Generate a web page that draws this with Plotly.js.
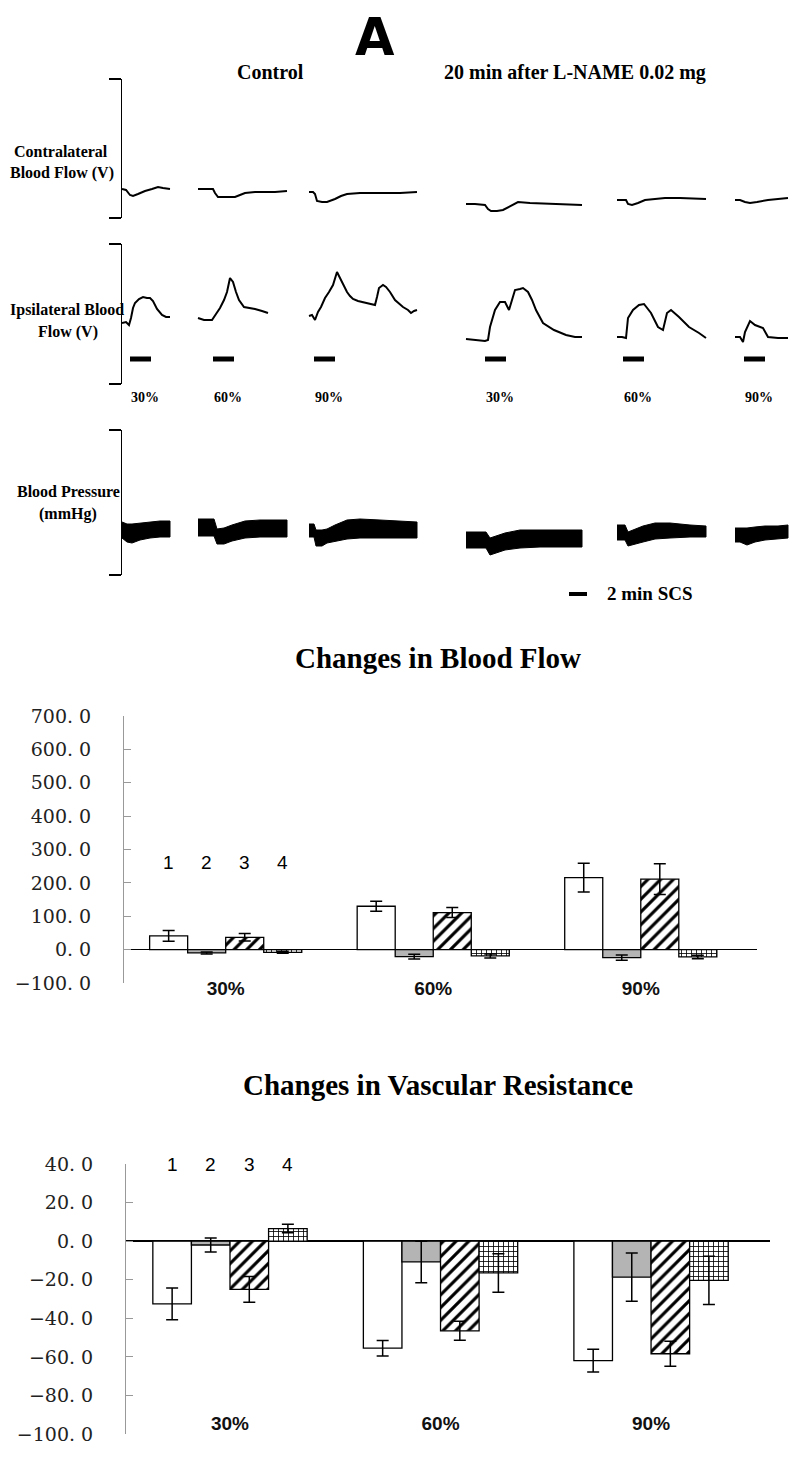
<!DOCTYPE html>
<html>
<head>
<meta charset="utf-8">
<script src="https://cdn.plot.ly/plotly-3.0.1.min.js"></script>
<style>
  html, body { margin: 0; padding: 0; background: #fff; }
  #graph { width: 800px; height: 1460px; }
</style>
</head>
<body>
<div id="graph"></div>
<script>
// ---- recordings (x = time position, y = signal height above bracket bottom) ----
const contraX = [
  [122, 126, 130, 133, 138, 145, 152, 158, 163, 167, 170],
  [198, 205, 213, 215, 218, 225, 235, 240, 245, 255, 265, 275, 287],
  [309, 313, 315, 317, 322, 327, 335, 341, 347, 360, 380, 400, 417],
  [466, 475, 485, 488, 491, 497, 503, 510, 518, 530, 550, 570, 582],
  [617, 622, 626, 628, 632, 638, 645, 655, 665, 680, 695, 706],
  [735, 740, 745, 750, 757, 768, 778, 788]
];
const contraY = [
  [29, 28, 23, 22, 24, 27, 29, 31, 30, 29, 29],
  [29, 29, 29, 25, 21, 21, 21, 23, 25, 26, 26, 26, 27],
  [26, 26, 24, 17, 16, 16, 19, 22, 24, 25, 25, 25, 26],
  [14, 14, 13, 9, 7, 7, 8, 12, 16, 15, 14, 13, 13],
  [18, 18, 18, 14, 13, 15, 18, 19, 20, 20, 19, 19],
  [18, 18, 16, 15, 16, 18, 19, 20]
];

const ipsiX = [
  [122, 126, 129, 131, 133, 135, 139, 143, 147, 150, 153, 157, 162, 166, 170],
  [198, 204, 208, 212, 216, 220, 224, 227, 230, 233, 236, 239, 244, 250, 255, 262, 268],
  [309, 312, 315, 318, 321, 325, 329, 333, 337, 341, 344, 347, 350, 353, 358, 362, 368, 375, 377, 379, 383, 386, 390, 395, 403, 408, 411, 414, 417],
  [466, 475, 485, 488, 490, 495, 500, 505, 509, 512, 515, 520, 523, 528, 532, 536, 543, 554, 566, 575, 582],
  [617, 622, 626, 628, 633, 639, 644, 651, 658, 663, 667, 671, 679, 689, 699, 706],
  [735, 740, 743, 745, 750, 755, 763, 768, 778, 788]
];
const ipsiY = [
  [61, 62, 59, 66, 76, 81, 85, 87, 86, 86, 83, 75, 69, 67, 67],
  [66, 64, 64, 64, 70, 76, 84, 92, 106, 102, 92, 84, 77, 76, 75, 73, 71],
  [68, 69, 64, 72, 77, 86, 92, 99, 112, 104, 98, 92, 88, 85, 83, 82, 80, 79, 87, 96, 99, 97, 92, 84, 77, 74, 71, 73, 74],
  [45, 44, 43, 44, 57, 74, 82, 82, 74, 84, 94, 95, 96, 92, 84, 74, 61, 54, 49, 47, 47],
  [47, 47, 46, 66, 74, 79, 80, 71, 57, 54, 71, 74, 67, 57, 51, 46],
  [47, 47, 42, 52, 63, 59, 56, 47, 46, 46]
];

// blood pressure band: systolic (top) and diastolic (bottom) envelopes
const bpX = [
  [122, 127, 132, 140, 150, 160, 170],
  [198, 205, 214, 217, 224, 232, 245, 260, 275, 287],
  [309, 314, 316, 322, 327, 335, 347, 360, 380, 400, 417],
  [466, 475, 486, 490, 496, 505, 520, 540, 560, 582],
  [617, 622, 625, 628, 635, 643, 655, 670, 690, 706],
  [735, 740, 747, 755, 765, 778, 788]
];
const bpTop = [
  [53, 51, 51, 52, 53, 54, 54],
  [56, 56, 56, 46, 47, 50, 54, 55, 55, 55],
  [51, 51, 45, 45, 46, 50, 55, 56, 55, 54, 53],
  [43, 43, 43, 37, 39, 42, 45, 45, 45, 45],
  [50, 50, 50, 43, 46, 49, 52, 52, 50, 49],
  [47, 47, 47, 48, 49, 49, 50]
];
const bpBottom = [
  [37, 33, 32, 35, 37, 38, 38],
  [39, 39, 39, 31, 31, 34, 37, 38, 38, 38],
  [38, 38, 29, 29, 32, 34, 36, 37, 37, 37, 37],
  [27, 27, 27, 20, 22, 25, 27, 28, 28, 28],
  [35, 35, 35, 29, 31, 33, 36, 37, 38, 38],
  [33, 33, 30, 33, 35, 36, 37]
];

const scsStart = [130, 213, 314, 485, 623, 744];
const scsLength = 21;
const scsLabels = ['30%', '60%', '90%', '30%', '60%', '90%'];

// ---- bar charts ----
const intensities = ['30%', '60%', '90%'];

const flow1 = [41, 130, 216];
const flow1Err = [16, 15, 43];
const flow2 = [-10, -21, -24];
const flow2Err = [3, 7, 8];
const flow3 = [37, 111, 211];
const flow3Err = [11, 15, 46];
const flow4 = [-8, -19, -22];
const flow4Err = [3, 6, 5];

const res1 = [-32.5, -55.5, -62];
const res1Err = [8.2, 4, 5.9];
const res2 = [-2, -10.8, -18.7];
const res2Err = [3.6, 10.8, 12.5];
const res3 = [-25, -46.5, -58.4];
const res3Err = [6.7, 4.9, 6.5];
const res4 = [6.5, -16.5, -20.3];
const res4Err = [2.2, 10, 12.5];

const flowTicks = [-100, 0, 100, 200, 300, 400, 500, 600, 700];
const resTicks = [-100, -80, -60, -40, -20, 0, 20, 40];

const serif = 'Liberation Serif, Times New Roman, serif';
const sans = 'Liberation Sans, Arial, sans-serif';
const W = 800, H = 1460;

function px(x, y) {
  return { x: x / W, y: 1 - y / H };
}

function tickText(v) {
  const s = Math.abs(v).toFixed(1).replace('.', '.\u00a0');
  return (v < 0 ? '\u2212' : '') + s;
}

const data = [];

// recordings
contraX.forEach((xs, i) => {
  data.push({ x: xs, y: contraY[i], xaxis: 'x', yaxis: 'y', mode: 'lines',
    line: { color: '#000', width: 2 }, hoverinfo: 'skip' });
});
ipsiX.forEach((xs, i) => {
  data.push({ x: xs, y: ipsiY[i], xaxis: 'x', yaxis: 'y2', mode: 'lines',
    line: { color: '#000', width: 2 }, hoverinfo: 'skip' });
});
bpX.forEach((xs, i) => {
  data.push({
    x: xs.concat(xs.slice().reverse()),
    y: bpTop[i].concat(bpBottom[i].slice().reverse()),
    xaxis: 'x', yaxis: 'y3', mode: 'lines', fill: 'toself',
    fillcolor: '#000', line: { color: '#000', width: 1 }, hoverinfo: 'skip'
  });
});
scsStart.forEach(s => {
  data.push({ x: [s, s + scsLength], y: [25, 25], xaxis: 'x', yaxis: 'y2',
    mode: 'lines', line: { color: '#000', width: 5 }, hoverinfo: 'skip' });
});

// bar styles
const styles = [
  { color: '#fff' },
  { color: '#b4b4b4' },
  { color: '#fff', pattern: { shape: '/', fgcolor: '#000', bgcolor: '#fff', size: 9, solidity: 0.35 } },
  { color: '#fff', pattern: { shape: '+', fgcolor: '#000', bgcolor: '#fff', size: 5, solidity: 0.3 } }
];

function addBars(series, errs, xa, ya) {
  series.forEach((vals, i) => {
    const m = Object.assign({ line: { color: '#000', width: 1.3 } }, styles[i]);
    data.push({
      type: 'bar', x: intensities, y: vals, xaxis: xa, yaxis: ya, marker: m,
      error_y: { type: 'data', array: errs[i], visible: true, color: '#000', thickness: 1.5, width: 6 },
      hoverinfo: 'skip'
    });
  });
}
addBars([flow1, flow2, flow3, flow4], [flow1Err, flow2Err, flow3Err, flow4Err], 'x2', 'y4');
addBars([res1, res2, res3, res4], [res1Err, res2Err, res3Err, res4Err], 'x3', 'y5');

const bargap = 0.267;
const groupW = 1 - bargap;
function barCenter(cat, i) {
  return cat - groupW / 2 + groupW / 8 + i * groupW / 4;
}

const bracket = (lo, hi, range) => ({
  domain: [1 - lo / H, 1 - hi / H], range: range, anchor: 'x',
  showline: true, linecolor: '#000', linewidth: 1.5,
  ticks: 'outside', tickvals: range, ticklen: 12, tickwidth: 1.5, tickcolor: '#000',
  showticklabels: false, showgrid: false, zeroline: false, fixedrange: true
});

const barY = (lo, hi, range, ticks, xa) => ({
  domain: [1 - lo / H, 1 - hi / H], range: range, anchor: xa,
  showline: true, linecolor: '#999', linewidth: 1,
  ticks: 'inside', ticklen: 7, tickcolor: '#999', tickwidth: 1,
  tickvals: ticks, ticktext: ticks.map(tickText), ticklabelstandoff: 28,
  tickfont: { family: 'DejaVu Serif, serif', size: 19, color: '#222' },
  showgrid: false, zeroline: true, zerolinecolor: '#000', zerolinewidth: 1.3
});

const barX = (left, right, range, labelY) => ({
  domain: [left / W, right / W], range: range, type: 'category',
  anchor: 'free', position: 1 - labelY / H,
  showline: false, ticks: '', showgrid: false, zeroline: false,
  tickfont: { family: sans, size: 19, color: '#111', weight: 'bold' }
});

const annotations = [];
function label(text, x, y, size, opts) {
  const p = px(x, y);
  annotations.push(Object.assign({
    text: text, x: p.x, y: p.y, xref: 'paper', yref: 'paper',
    xanchor: 'center', yanchor: 'middle', showarrow: false,
    font: { family: serif, size: size, color: '#000', weight: 'bold' }
  }, opts || {}));
}

label('A', 375, 37, 51, { font: { family: 'DejaVu Sans, sans-serif', size: 51, color: '#000', weight: 'bold' } });
label('Control', 270, 72, 20);
label('20 min after L-NAME 0.02 mg', 575, 72, 20);
label('Contralateral', 61, 151, 16);
label('Blood Flow (V)', 62, 173, 16);
label('Ipsilateral Blood', 67, 310, 16);
label('Flow (V)', 68, 332, 16);
label('Blood Pressure', 68, 491, 16);
label('(mmHg)', 68, 514, 16);
label('2 min SCS', 605, 594, 19, { xanchor: 'left' });
label('Changes in Blood Flow', 438, 658, 29);
label('Changes in Vascular Resistance', 438, 1085, 29);

scsStart.forEach((s, i) => {
  annotations.push({
    text: scsLabels[i], x: s + 15, y: 1 - 398 / H, xref: 'x', yref: 'paper',
    showarrow: false, xanchor: 'center', yanchor: 'middle',
    font: { family: serif, size: 14, color: '#000', weight: 'bold' }
  });
});

['1', '2', '3', '4'].forEach((t, i) => {
  annotations.push({ text: t, x: barCenter(0, i), y: 260, xref: 'x2', yref: 'y4',
    showarrow: false, font: { family: sans, size: 19, color: '#000' } });
  annotations.push({ text: t, x: barCenter(0, i), y: 40, xref: 'x3', yref: 'y5',
    showarrow: false, font: { family: sans, size: 19, color: '#000' } });
});

const layout = {
  width: W, height: H,
  margin: { l: 0, r: 0, t: 0, b: 0 },
  paper_bgcolor: '#fff', plot_bgcolor: 'rgba(0,0,0,0)',
  showlegend: false,
  barmode: 'group', bargap: bargap, bargroupgap: 0,
  xaxis: { domain: [122 / W, 1], range: [122, 800], visible: false, fixedrange: true },
  yaxis: bracket(218, 79, [0, 139]),
  yaxis2: bracket(384, 244, [0, 140]),
  yaxis3: bracket(575, 430, [0, 145]),
  xaxis2: barX(124, 757, [-0.49, 2.56], 975),
  yaxis4: barY(983, 716, [-100, 700], flowTicks, 'x2'),
  xaxis3: barX(126, 770, [-0.494, 2.565], 1410),
  yaxis5: barY(1434, 1164, [-100, 40], resTicks, 'x3'),
  shapes: [
    { type: 'line', xref: 'paper', yref: 'paper',
      x0: 569 / W, x1: 587 / W, y0: 1 - 594 / H, y1: 1 - 594 / H,
      line: { color: '#000', width: 4 } }
  ],
  annotations: annotations
};

Plotly.newPlot('graph', data, layout, { staticPlot: true });
</script>
</body>
</html>
